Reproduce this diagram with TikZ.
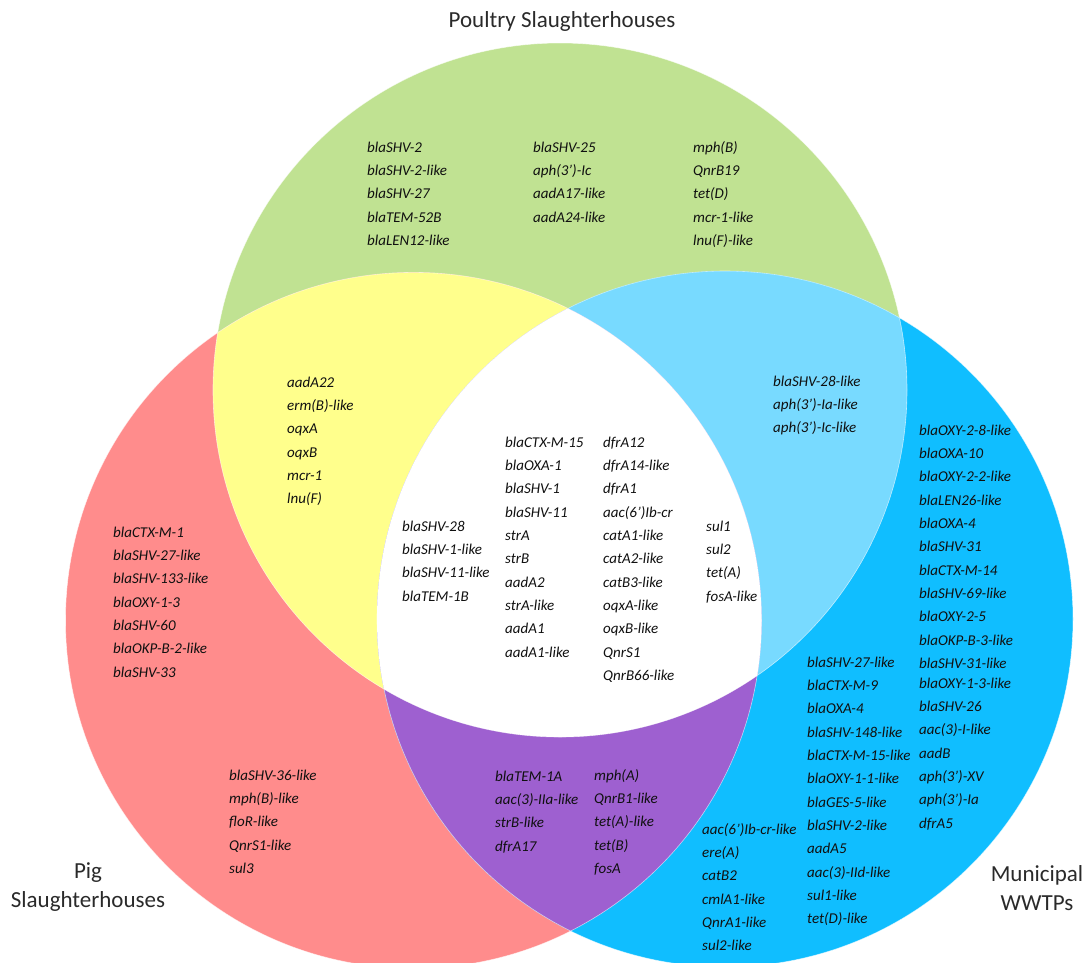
\documentclass[tikz,border=0pt]{standalone}
\usepackage{fontspec}
\setmainfont{Carlito}
\definecolor{cgreen}{HTML}{C0E292}
\definecolor{cred}{HTML}{FF8C8C}
\definecolor{cblue}{HTML}{10BEFF}
\definecolor{cyellow}{HTML}{FFFF8C}
\definecolor{clblue}{HTML}{78DAFF}
\definecolor{cpurple}{HTML}{9E60D0}
\definecolor{txt}{HTML}{101010}
\definecolor{ttl}{HTML}{2A2A2A}
\newcommand\genelist[4]{\foreach \g [count=\i] in {#4}{\node[gene] (#1-\i) at (#2,{#3+(\i-1)*23.35}) {\g};}}
\begin{document}
\begin{tikzpicture}[x=1pt,y=-1pt,
  gene/.style={font=\fontsize{15}{18}\selectfont\itshape, text=txt, inner sep=0pt, anchor=base west},
  grouptitle/.style={font=\fontsize{23}{28.5}\selectfont, text=ttl, align=center, inner sep=0pt}]
\useasboundingbox (0,0) rectangle (1085,962);
\coordinate (G) at (560,390);
\coordinate (R) at (413.5,620.4);
\coordinate (B) at (725,619);
\def\rg{347pt}\def\rr{348pt}\def\rb{348pt}
% base circles
\fill[cgreen] (G) circle[radius=\rg];
\fill[cred] (R) circle[radius=\rr];
\fill[cblue] (B) circle[radius=\rb];
% pairwise overlaps
\begin{scope}\clip (G) circle[radius=\rg]; \fill[cyellow] (R) circle[radius=\rr];\end{scope}
\begin{scope}\clip (G) circle[radius=\rg]; \fill[clblue] (B) circle[radius=\rb];\end{scope}
\begin{scope}\clip (R) circle[radius=\rr]; \fill[cpurple] (B) circle[radius=\rb];\end{scope}
% triple overlap
\begin{scope}\clip (G) circle[radius=\rg]; \clip (R) circle[radius=\rr]; \fill[white] (B) circle[radius=\rb];\end{scope}
% thin light outlines
\draw[white, line width=0.6pt, opacity=0.6] (G) circle[radius=\rg] (R) circle[radius=\rr] (B) circle[radius=\rb];
% group titles
\node[grouptitle] (tpoultry) at (562,21) {Poultry Slaughterhouses};
\node[grouptitle] (tpig) at (88,887) {Pig\\Slaughterhouses};
\node[grouptitle] (tmun) at (1037,888) {Municipal\\WWTPs};
% Poultry only
\genelist{pa}{367}{152}{blaSHV-2,blaSHV-2-like,blaSHV-27,blaTEM-52B,blaLEN12-like}
\genelist{pb}{533}{152}{blaSHV-25,aph(3')-Ic,aadA17-like,aadA24-like}
\genelist{pc}{693}{152}{mph(B),QnrB19,tet(D),mcr-1-like,lnu(F)-like}
% Poultry & Pig
\genelist{py}{287}{387}{aadA22,erm(B)-like,oqxA,oqxB,mcr-1,lnu(F)}
% Poultry & Municipal
\genelist{pm}{773}{386}{blaSHV-28-like,aph(3')-Ia-like,aph(3')-Ic-like}
% all three
\genelist{wa}{402}{531}{blaSHV-28,blaSHV-1-like,blaSHV-11-like,blaTEM-1B}
\genelist{wb}{505}{447}{blaCTX-M-15,blaOXA-1,blaSHV-1,blaSHV-11,strA,strB,aadA2,strA-like,aadA1,aadA1-like}
\genelist{wc}{603}{447}{dfrA12,dfrA14-like,dfrA1,aac(6')Ib-cr,catA1-like,catA2-like,catB3-like,oqxA-like,oqxB-like,QnrS1,QnrB66-like}
\genelist{wd}{706}{531}{sul1,sul2,tet(A),fosA-like}
% Pig only
\genelist{ga}{113}{537}{blaCTX-M-1,blaSHV-27-like,blaSHV-133-like,blaOXY-1-3,blaSHV-60,blaOKP-B-2-like,blaSHV-33}
\genelist{gb}{229}{780}{blaSHV-36-like,mph(B)-like,floR-like,QnrS1-like,sul3}
% Pig & Municipal
\genelist{ua}{495}{781}{blaTEM-1A,aac(3)-IIa-like,strB-like,dfrA17}
\genelist{ub}{594}{780}{mph(A),QnrB1-like,tet(A)-like,tet(B),fosA}
% Municipal only
\genelist{ma}{919}{435}{blaOXY-2-8-like,blaOXA-10,blaOXY-2-2-like,blaLEN26-like,blaOXA-4,blaSHV-31,blaCTX-M-14,blaSHV-69-like,blaOXY-2-5,blaOKP-B-3-like,blaSHV-31-like}
\genelist{mb}{919}{688}{blaOXY-1-3-like,blaSHV-26,aac(3)-I-like,aadB,aph(3')-XV,aph(3')-Ia,dfrA5}
\genelist{mc}{807}{667}{blaSHV-27-like,blaCTX-M-9,blaOXA-4,blaSHV-148-like,blaCTX-M-15-like,blaOXY-1-1-like,blaGES-5-like,blaSHV-2-like,aadA5,aac(3)-IId-like,sul1-like,tet(D)-like}
\genelist{md}{702}{834}{aac(6')Ib-cr-like,ere(A),catB2,cmlA1-like,QnrA1-like,sul2-like}
\end{tikzpicture}
\end{document}
